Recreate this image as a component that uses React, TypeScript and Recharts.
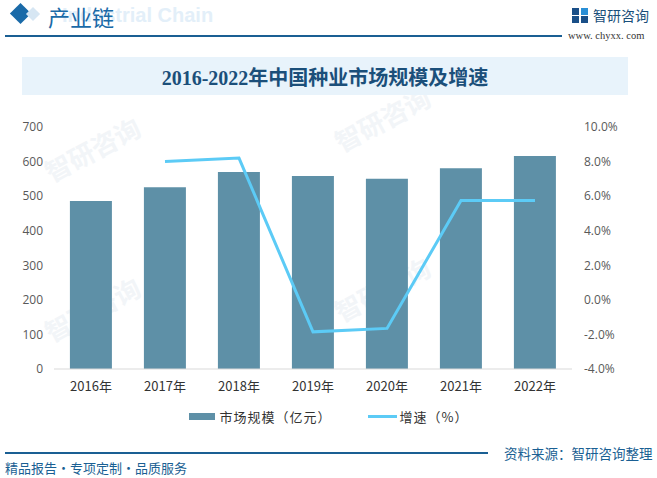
import React from "react";
import { ComposedChart, Bar, Line, XAxis, YAxis, Legend } from "recharts";

const categories = ["2016年", "2017年", "2018年", "2019年", "2020年", "2021年", "2022年"];
const marketSize = [486, 526, 570, 558, 550, 581, 616];
const growth: (number | null)[] = [null, 8.0, 8.2, -1.85, -1.65, 5.75, 5.75];
const leftTicks = [0, 100, 200, 300, 400, 500, 600, 700];
const rightTicks = [-4, -2, 0, 2, 4, 6, 8, 10];

const data = categories.map((c, i) => ({ year: c, size: marketSize[i], rate: growth[i] }));

const BAR = "#5e90a7";
const LINE = "#5ccbf6";
const BLUE = "#1a5f93";
const CJK = "'Noto Sans CJK SC', 'Noto Sans', sans-serif";

const LegendContent = () => (
  <div style={{ display: "flex", justifyContent: "center", alignItems: "center", fontFamily: CJK, fontSize: 13, color: "#333" }}>
    <span style={{ display: "inline-block", width: 26, height: 7, background: BAR, marginRight: 5 }} />
    <span style={{ marginRight: 36, letterSpacing: 1 }}>市场规模（亿元）</span>
    <span style={{ display: "inline-block", width: 29, height: 3, background: LINE, marginRight: 3 }} />
    <span style={{ letterSpacing: 1 }}>增速（%）</span>
  </div>
);

const watermarks = [
  { x: 40, y: 160 }, { x: 330, y: 130 },
  { x: 40, y: 320 }, { x: 330, y: 300 },
];

export default function App() {
  return (
    <div style={{ position: "absolute", left: 0, top: 0, width: 657, height: 478, background: "#fff", overflow: "hidden" }}>
      {watermarks.map((w, i) => (
        <div key={i} style={{ position: "absolute", left: w.x, top: w.y - 30, transform: "rotate(-28deg)", color: "#f2f5f8", fontFamily: CJK, fontSize: 26, fontWeight: 700, whiteSpace: "nowrap" }}>
          智研咨询
        </div>
      ))}
      {/* header */}
      <div style={{ position: "absolute", left: 13, top: 6, width: 15, height: 15, background: "#1a6aa8", transform: "rotate(45deg)" }} />
      <div style={{ position: "absolute", left: 28, top: 9, width: 10, height: 10, background: "#d6e6f3", transform: "rotate(45deg)" }} />
      <div style={{ position: "absolute", left: 62, top: 4, fontFamily: "'Liberation Sans', Arial, sans-serif", fontWeight: 700, fontSize: 20, color: "#e3eff9", whiteSpace: "nowrap" }}>
        Industrial Chain
      </div>
      <div style={{ position: "absolute", left: 48, top: 1, fontFamily: CJK, fontSize: 22, color: "#1a6aa8", whiteSpace: "nowrap", lineHeight: "30px" }}>
        产业链
      </div>
      <div style={{ position: "absolute", left: 5, top: 35, width: 557, height: 2, background: "#1a5f93" }} />
      <div style={{ position: "absolute", left: 572, top: 8, width: 16, height: 15 }}>
        <div style={{ position: "absolute", left: 0, top: 0, width: 7, height: 7, background: "#1a4f88" }} />
        <div style={{ position: "absolute", left: 9, top: 0, width: 7, height: 7, background: "#2a8fd6" }} />
        <div style={{ position: "absolute", left: 0, top: 8, width: 7, height: 7, background: "#1a4f88" }} />
        <div style={{ position: "absolute", left: 9, top: 8, width: 7, height: 7, background: "#1a4f88" }} />
      </div>
      <div style={{ position: "absolute", left: 593, top: 5, fontFamily: CJK, fontSize: 14, color: "#1a4f7a", whiteSpace: "nowrap", lineHeight: "20px" }}>
        智研咨询
      </div>
      <div style={{ position: "absolute", left: 568, top: 29, fontFamily: "'Liberation Serif', serif", fontSize: 10.5, color: "#333", whiteSpace: "nowrap", lineHeight: "14px" }}>
        www. chyxx. com
      </div>
      {/* title */}
      <div style={{ position: "absolute", left: 22, top: 57, width: 606, height: 38, background: "#e8f3fb", display: "flex", alignItems: "center", justifyContent: "center", fontFamily: "'Liberation Serif', 'Noto Sans CJK SC', serif", fontWeight: 700, fontSize: 20, color: "#1b4f7a" }}>
        2016-2022年中国种业市场规模及增速
      </div>
      {/* chart */}
      <div style={{ position: "absolute", left: 0, top: 0 }}>
        <ComposedChart width={657} height={478} data={data} margin={{ top: 127, right: 0, bottom: 79, left: 0 }} barCategoryGap="21.5%">
          <XAxis dataKey="year" tickLine={false} axisLine={{ stroke: "#d9d9d9" }} tickMargin={7} height={30}
            tick={{ fill: "#333", fontSize: 13, fontFamily: CJK }} interval={0} />
          <YAxis yAxisId="left" orientation="left" width={54} domain={[0, 700]} ticks={leftTicks} axisLine={false} tickLine={false} tickMargin={5}
            tick={{ fill: "#595959", fontSize: 12, fontFamily: "'Open Sans', 'Noto Sans', sans-serif" }} interval={0} />
          <YAxis yAxisId="right" orientation="right" width={85} domain={[-4, 10]} ticks={rightTicks} axisLine={false} tickLine={false} tickMargin={6}
            tickFormatter={(v: number) => v.toFixed(1) + "%"} textAnchor="start"
            tick={{ fill: "#595959", fontSize: 12, fontFamily: "'Open Sans', 'Noto Sans', sans-serif" }} interval={0} />
          <Bar yAxisId="left" dataKey="size" fill={BAR} isAnimationActive={false} />
          <Line yAxisId="right" dataKey="rate" stroke={LINE} strokeWidth={3} dot={false} activeDot={false} isAnimationActive={false} />
          <Legend verticalAlign="middle" align="center" layout="horizontal" content={<LegendContent />}
            wrapperStyle={{ position: "absolute", top: 407, left: 0, width: 657 }} />
        </ComposedChart>
      </div>
      {/* footer */}
      <div style={{ position: "absolute", left: 5, top: 452, width: 483, height: 1.5, background: "#1a5f93" }} />
      <div style={{ position: "absolute", left: 504, top: 443, fontFamily: CJK, fontSize: 13.5, color: BLUE, whiteSpace: "nowrap", lineHeight: "20px" }}>
        资料来源：智研咨询整理
      </div>
      <div style={{ position: "absolute", left: 5, top: 458, fontFamily: CJK, fontSize: 13, color: BLUE, whiteSpace: "nowrap", lineHeight: "20px" }}>
        精品报告·专项定制·品质服务
      </div>
    </div>
  );
}
